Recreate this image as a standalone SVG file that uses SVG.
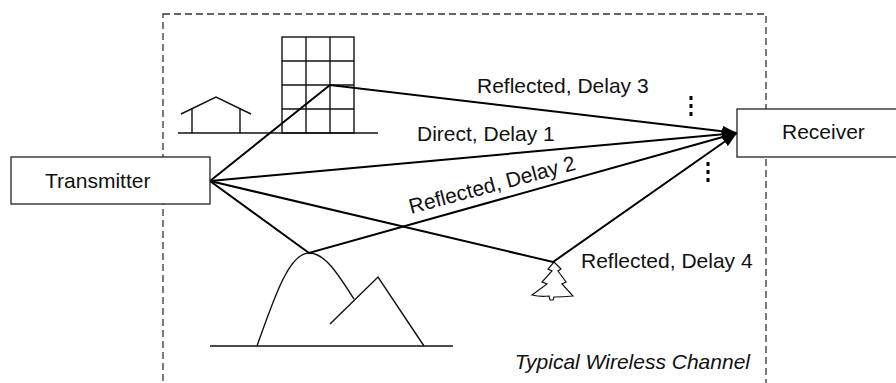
<svg xmlns="http://www.w3.org/2000/svg" width="896" height="383" viewBox="0 0 896 383">
  <style>
    .lbl { font-family: "Liberation Sans", Arial, Helvetica, sans-serif; font-size: 21px; fill: #111; }
    .box { fill: #fff; stroke: #222; stroke-width: 1.3; }
    .thin { fill: none; stroke: #111; stroke-width: 1.4; stroke-linejoin: miter; }
    .path { fill: none; stroke: #000; stroke-width: 2; }
    .dots { stroke: #000; stroke-width: 3; stroke-dasharray: 4 4; }
  </style>
  <defs>
    <marker id="arrow" viewBox="0 0 15 11" refX="15" refY="5.5" markerWidth="15" markerHeight="11" markerUnits="userSpaceOnUse" orient="auto">
      <path d="M0,0 L15,5.5 L0,11 Z" fill="#000"/>
    </marker>
  </defs>
  <rect width="896" height="383" fill="#fff"/>

  <!-- channel boundary -->
  <rect id="channel" x="163" y="14" width="603" height="400" fill="none" stroke="#333" stroke-width="1.3" stroke-dasharray="7 4"/>

  <!-- scenery -->
  <g id="house" class="thin">
    <polyline points="181,114 216,97 251,114"/>
    <line x1="192" y1="109" x2="192" y2="133"/>
    <line x1="240" y1="109" x2="240" y2="133"/>
  </g>
  <g id="building" class="thin">
    <rect x="282" y="37" width="72" height="96"/>
    <line x1="306" y1="37" x2="306" y2="133"/>
    <line x1="330" y1="37" x2="330" y2="133"/>
    <line x1="282" y1="61" x2="354" y2="61"/>
    <line x1="282" y1="85" x2="354" y2="85"/>
    <line x1="282" y1="109" x2="354" y2="109"/>
    <line x1="178" y1="133" x2="378" y2="133"/>
  </g>
  <g id="mountains" class="thin">
    <line x1="210" y1="346" x2="453" y2="346"/>
    <path d="M257,346 C276,292 290,253 309,253 C325,253 338,274 354,299"/>
    <polyline points="330,324 378,277 424,346"/>
  </g>
  <g id="tree" class="thin">
    <path d="M554,262 L548,269 L552,271 L542,282 L547,284 L532,295 Q540,297 549,296 L550,300 L553,300 L554,297 Q563,297 573,296 L562,284 L566,282 L558,271 L561,269 Z" stroke-width="1.2"/>
  </g>

  <!-- propagation paths -->
  <g id="connectors" class="path">
    <line x1="210" y1="181" x2="737" y2="133" marker-end="url(#arrow)"/>
    <polyline points="210,181 330,85 737,133" marker-end="url(#arrow)"/>
    <polyline points="210,181 309,253 737,133" marker-end="url(#arrow)"/>
    <polyline points="210,181 553,262 737,133" marker-end="url(#arrow)"/>
  </g>

  <line class="dots" x1="691" y1="96" x2="691" y2="116"/>
  <line class="dots" x1="708" y1="162" x2="708" y2="182"/>

  <g id="transmitter">
    <rect class="box" x="11" y="157" width="199" height="47"/>
    <text class="lbl" x="45" y="188">Transmitter</text>
  </g>
  <g id="receiver">
    <rect class="box" x="737" y="109" width="170" height="48"/>
    <text class="lbl" x="782" y="139">Receiver</text>
  </g>

  <g id="labels">
    <text class="lbl" x="477" y="93">Reflected, Delay 3</text>
    <text class="lbl" x="417" y="141">Direct, Delay 1</text>
    <text class="lbl" transform="translate(411,214) rotate(-15)">Reflected, Delay 2</text>
    <text class="lbl" x="581" y="268">Reflected, Delay 4</text>
    <text class="lbl" x="750" y="369" text-anchor="end" font-style="italic">Typical Wireless Channel</text>
  </g>
</svg>
